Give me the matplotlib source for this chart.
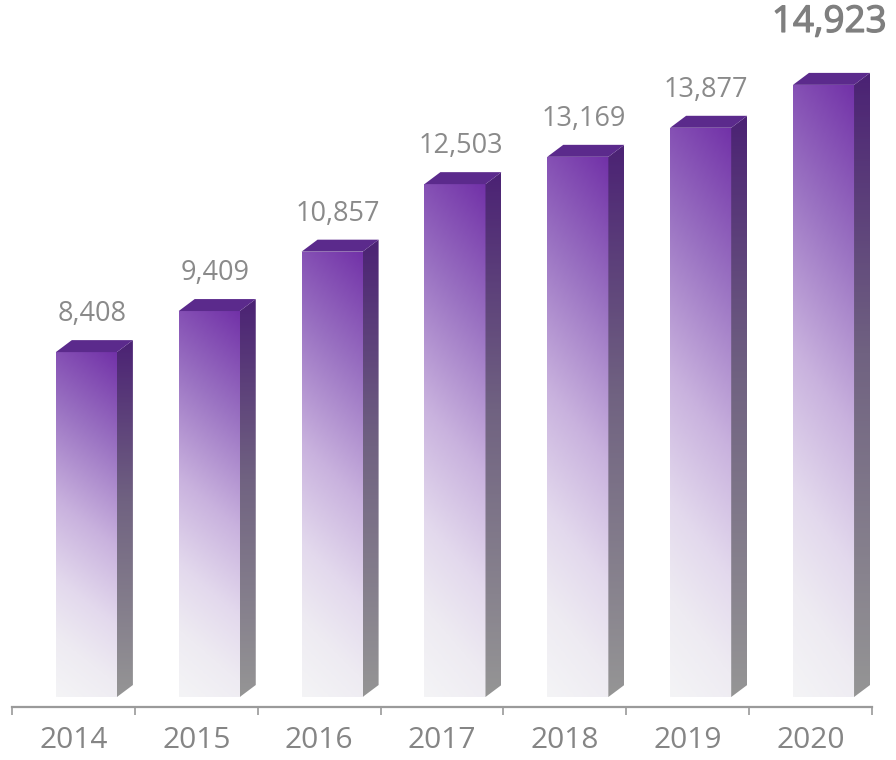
import matplotlib
matplotlib.use("Agg")
import matplotlib.pyplot as plt
import matplotlib.patheffects as pe
import numpy as np
from matplotlib.patches import Polygon, Rectangle
from matplotlib.colors import LinearSegmentedColormap

# data
years = ["2014", "2015", "2016", "2017", "2018", "2019", "2020"]
values = [8408, 9409, 10857, 12503, 13169, 13877, 14923]

# style
TEXT_GREY = "#8a8a8a"
AXIS_GREY = "#9a9a9a"
FRONT_CMAP = LinearSegmentedColormap.from_list(
    "front", [(0.0, "#7232a8"), (0.25, "#9a72c2"), (0.5, "#c9b2de"),
              (0.7, "#e3d9ed"), (0.85, "#eeebf2"), (1.0, "#f4f4f6")])
SIDE_CMAP = LinearSegmentedColormap.from_list(
    "side", [(0.0, "#4b2274"), (0.45, "#706281"), (1.0, "#959595")])
TOP_COLOR = "#5b2a8c"

BAR_LEFT = -0.143   # front face offset from category centre
BAR_W = 0.497
DX = 0.13           # depth in category units
DY = 292            # depth in value units

plt.rcParams["font.family"] = ["Open Sans", "DejaVu Sans"]

fig = plt.figure(figsize=(8.96, 7.6), dpi=100)
ax = fig.add_axes([12 / 896, 53 / 760, 860 / 896, 707 / 760])
ax.set_xlim(-0.5, 6.5)
ax.set_ylim(-244, 16992)

for i, v in enumerate(values):
    x0 = i + BAR_LEFT
    x1 = x0 + BAR_W

    # front face, diagonal gradient
    ny, nx = 200, 40
    yy = np.linspace(0, 1, ny)[:, None]
    xx = np.linspace(0, 1, nx)[None, :]
    t = np.clip(yy * 0.88 + (1 - xx) * 0.12, 0, 1)
    front = Rectangle((x0, 0), BAR_W, v, facecolor="none", edgecolor="none")
    ax.add_patch(front)
    im = ax.imshow(t, cmap=FRONT_CMAP, vmin=0, vmax=1, aspect="auto",
                   extent=[x0, x1, 0, v], origin="upper", zorder=2,
                   interpolation="bilinear")
    im.set_clip_path(front)

    # side face
    side = Polygon([(x1, 0), (x1 + DX, DY), (x1 + DX, v + DY), (x1, v)],
                   closed=True, facecolor="none", edgecolor="none")
    ax.add_patch(side)
    ts = np.linspace(0, 1, ny)[:, None] * np.ones((1, 4))
    ims = ax.imshow(ts, cmap=SIDE_CMAP, vmin=0, vmax=1, aspect="auto",
                    extent=[x1, x1 + DX, 0, v + DY], origin="upper", zorder=2,
                    interpolation="bilinear")
    ims.set_clip_path(side)

    # top face
    ax.add_patch(Polygon([(x0, v), (x0 + DX, v + DY), (x1 + DX, v + DY), (x1, v)],
                         closed=True, facecolor=TOP_COLOR, edgecolor="none",
                         zorder=3))

    # value label
    if i == len(values) - 1:
        ax.annotate(f"{v:,}", (x0 + BAR_W / 2 + DX * 0.35, v + DY),
                    xytext=(0, 23), textcoords="offset points",
                    ha="center", va="bottom", fontsize=26.5, color="#7f7f7f",
                    path_effects=[pe.withStroke(linewidth=0.9, foreground="#7f7f7f")])
    else:
        ax.annotate(f"{v:,}", (x0 + BAR_W / 2 + DX * 0.35, v + DY),
                    xytext=(0, 8.5), textcoords="offset points",
                    ha="center", va="bottom", fontsize=19.5, color=TEXT_GREY)

# axis
for s in ["top", "right", "left"]:
    ax.spines[s].set_visible(False)
ax.spines["bottom"].set_color(AXIS_GREY)
ax.spines["bottom"].set_linewidth(1.6)
ax.set_yticks([])
ax.set_xticks(range(len(years)))
ax.set_xticklabels(years, fontsize=21.5, color="#858585")
ax.tick_params(axis="x", which="major", length=0, pad=14)
ax.set_xticks(np.arange(-0.5, len(years), 1.0), minor=True)
ax.tick_params(axis="x", which="minor", length=6, width=1.2, color=AXIS_GREY)
ax.patch.set_alpha(0)

fig.savefig("out.png", dpi=100, facecolor="white")
